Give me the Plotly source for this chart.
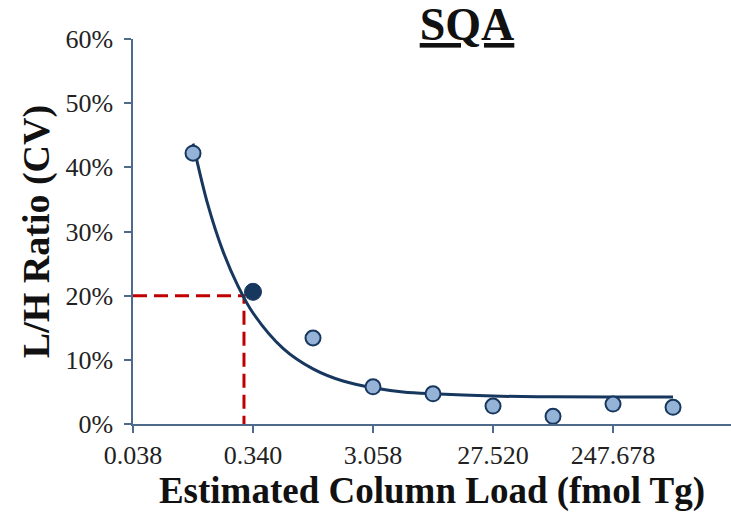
import plotly.graph_objects as go

# Column load (fmol Tg) and light/heavy ratio CV (fraction)
load_fmol = [0.1133, 0.3398, 1.0193, 3.0578, 9.1733, 27.520, 82.559, 247.678, 743.03]
cv_ratio = [0.422, 0.206, 0.134, 0.058, 0.047, 0.028, 0.012, 0.031, 0.026]
highlight_index = 1  # load point shown in dark

# Fitted trend line (sampled along the load axis)
fit_load = [0.1133, 0.1490, 0.1962, 0.2582, 0.3398, 0.5885, 1.0193, 1.7656,
            3.0578, 5.297, 9.1733, 27.520, 82.559, 247.678, 743.03]
fit_cv = [0.437, 0.341, 0.269, 0.215, 0.173, 0.118, 0.086, 0.067,
          0.0565, 0.050, 0.047, 0.0435, 0.0425, 0.042, 0.042]

# 20% CV threshold and the load where the fit crosses it
threshold_cv = 0.20
threshold_load = 0.288
axis_start_load = 0.03775

tick_vals = [0.03775, 0.33975, 3.0578, 27.520, 247.678]
tick_text = ["0.038", "0.340", "3.058", "27.520", "247.678"]

navy = "#17375E"
light_blue = "#95B3D7"
red = "#C00000"
axis_col = "#4F6B8C"
serif = "Liberation Serif, Times New Roman, serif"

fig = go.Figure()

fig.add_trace(go.Scatter(
    x=[axis_start_load, threshold_load, threshold_load],
    y=[threshold_cv, threshold_cv, 0],
    mode="lines",
    line=dict(color=red, width=3, dash="14px,7px"),
    hoverinfo="skip", showlegend=False,
))

fig.add_trace(go.Scatter(
    x=fit_load, y=fit_cv, mode="lines",
    line=dict(color=navy, width=3, shape="spline", smoothing=1.0),
    showlegend=False,
))

other = [i for i in range(len(load_fmol)) if i != highlight_index]
fig.add_trace(go.Scatter(
    x=[load_fmol[i] for i in other], y=[cv_ratio[i] for i in other],
    mode="markers",
    marker=dict(size=15, color=light_blue, line=dict(color=navy, width=2)),
    showlegend=False,
))
fig.add_trace(go.Scatter(
    x=[load_fmol[highlight_index]], y=[cv_ratio[highlight_index]],
    mode="markers",
    marker=dict(size=17, color=navy, line=dict(color=navy, width=1)),
    showlegend=False,
))

log_start = -1.42309
log_end = 3.332

fig.update_layout(
    width=731, height=521,
    margin=dict(l=133, r=0, t=39, b=97),
    paper_bgcolor="white", plot_bgcolor="white",
    font=dict(family=serif, color="#111111"),
    title=dict(
        text='<b><span style="text-decoration:underline;'
             'text-decoration-skip-ink:none">SQA</span></b>',
        x=(467 - 133) / 598, xref="paper", xanchor="center",
        y=0.985, yref="container", yanchor="top",
        font=dict(family=serif, size=46, color="#111111"),
    ),
    xaxis=dict(
        type="log", range=[log_start, log_end],
        tickvals=tick_vals, ticktext=tick_text,
        ticks="outside", ticklen=7, tickcolor=axis_col, tickwidth=1.5,
        showline=True, linecolor=axis_col, linewidth=1.5,
        showgrid=False, zeroline=False,
        tickfont=dict(family=serif, size=26, color="#222222"),
        title=dict(text="<b>Estimated Column Load (fmol Tg)</b>",
                   font=dict(family=serif, size=37, color="#111111"),
                   standoff=8),
    ),
    yaxis=dict(
        range=[0, 0.6], dtick=0.1, tickformat=".0%",
        ticks="outside", ticklen=7, tickcolor=axis_col, tickwidth=1.5,
        showline=True, linecolor=axis_col, linewidth=1.5,
        showgrid=False, zeroline=False, ticklabelstandoff=6,
        tickfont=dict(family=serif, size=26, color="#222222"),
        title=dict(text="<b>L/H Ratio (CV)</b>",
                   font=dict(family=serif, size=38, color="#111111"),
                   standoff=4),
    ),
)

fig.write_html("out.html")
